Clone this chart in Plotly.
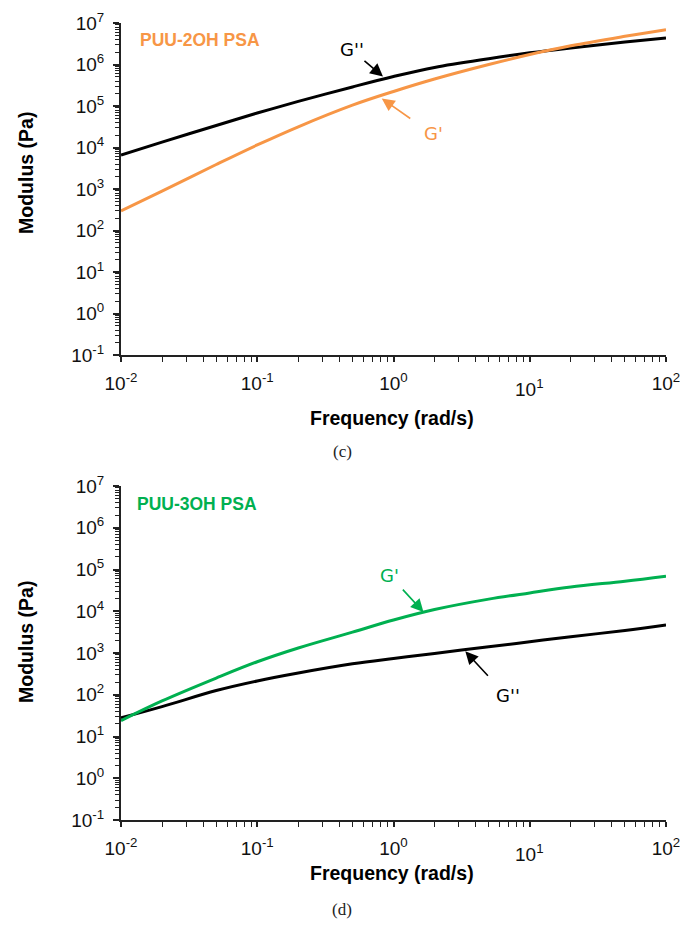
import math
import plotly.graph_objects as go

# Frequency (rad/s)
freq = [0.01, 0.02, 0.05, 0.1, 0.2, 0.5, 1, 2, 5, 10, 20, 50, 100]

# (c) PUU-2OH PSA, modulus in Pa
c_g_storage = [295, 891, 3890, 11500, 31600, 105000, 224000, 447000, 1.0e6, 1.74e6, 2.82e6, 4.79e6, 6.92e6]
c_g_loss = [6610, 13500, 33900, 67600, 129000, 288000, 513000, 851000, 1.38e6, 1.91e6, 2.51e6, 3.47e6, 4.37e6]

# (d) PUU-3OH PSA, modulus in Pa
d_g_storage = [24, 71, 251, 617, 1320, 3160, 6170, 11000, 19500, 27500, 38000, 52500, 69200]
d_g_loss = [28, 52, 126, 214, 331, 550, 741, 977, 1410, 1860, 2450, 3470, 4680]

x_tick_vals = [0.01, 0.1, 1, 10, 100]
x_tick_text = ["10<sup>-2</sup>", "10<sup>-1</sup>", "10<sup>0</sup>", "", "10<sup>2</sup>"]
y_tick_vals = [0.1, 1, 10, 100, 1e3, 1e4, 1e5, 1e6, 1e7]
y_tick_text = ["10<sup>-1</sup>", "10<sup>0</sup>", "10<sup>1</sup>", "10<sup>2</sup>", "10<sup>3</sup>",
               "10<sup>4</sup>", "10<sup>5</sup>", "10<sup>6</sup>", "10<sup>7</sup>"]

ORANGE = "#F79646"
GREEN = "#00B050"
BLACK = "#000000"
W, H = 680, 929
AX_FONT = "Arial, Liberation Sans, sans-serif"
G_FONT = "DejaVu Sans, Verdana, sans-serif"
TICK_SIZE = 19

fig = go.Figure()
fig.add_trace(go.Scatter(x=freq, y=c_g_loss, mode="lines", line=dict(color=BLACK, width=3, shape="spline"),
                         xaxis="x", yaxis="y", showlegend=False))
fig.add_trace(go.Scatter(x=freq, y=c_g_storage, mode="lines", line=dict(color=ORANGE, width=3, shape="spline"),
                         xaxis="x", yaxis="y", showlegend=False))
fig.add_trace(go.Scatter(x=freq, y=d_g_loss, mode="lines", line=dict(color=BLACK, width=3, shape="spline"),
                         xaxis="x2", yaxis="y2", showlegend=False))
fig.add_trace(go.Scatter(x=freq, y=d_g_storage, mode="lines", line=dict(color=GREEN, width=3, shape="spline"),
                         xaxis="x2", yaxis="y2", showlegend=False))

x_minor = [m * 10 ** k for k in range(-2, 2) for m in range(2, 10)]
y_minor = [m * 10 ** k for k in range(-1, 7) for m in range(2, 10)]

def xaxis_cfg(anchor):
    return dict(type="log", range=[-2, 2], domain=[121 / W, 666 / W], anchor=anchor, automargin=False,
                showline=True, linecolor="#222", linewidth=2, mirror=False,
                showgrid=False, zeroline=False, ticklabeloverflow="allow",
                tickvals=x_tick_vals, ticktext=x_tick_text, ticks="outside", ticklen=5,
                tickwidth=1.5, tickcolor="#222", ticklabelstandoff=5,
                tickfont=dict(family=AX_FONT, size=TICK_SIZE, color="#111"),
                minor=dict(tickvals=x_minor, ticks="outside", ticklen=5, tickwidth=1.2, tickcolor="#222"))

def yaxis_cfg(anchor, top_px, bot_px):
    return dict(type="log", range=[-1, 7], domain=[1 - bot_px / H, 1 - top_px / H], anchor=anchor,
                automargin=False, ticklabeloverflow="allow",
                showline=True, linecolor="#222", linewidth=2,
                showgrid=False, zeroline=False,
                tickvals=y_tick_vals, ticktext=y_tick_text, ticks="outside", ticklen=6,
                tickwidth=1.5, tickcolor="#222", ticklabelstandoff=5,
                tickfont=dict(family=AX_FONT, size=TICK_SIZE, color="#111"),
                minor=dict(tickvals=y_minor, ticks="outside", ticklen=4, tickwidth=1.2, tickcolor="#222"))

annotations = []

def txt(x, y, text, size, color="#000", family=AX_FONT, bold=False, angle=0, xanchor="center"):
    t = f"<b>{text}</b>" if bold else text
    annotations.append(dict(x=x / W, y=1 - y / H, xref="paper", yref="paper", text=t, showarrow=False,
                            font=dict(family=family, size=size, color=color), textangle=angle,
                            xanchor=xanchor, yanchor="middle"))

def arrow(xref, yref, fx, gy, ax, ay, color):
    # log axes: annotation positions are given in log10 units
    annotations.append(dict(x=math.log10(fx), y=math.log10(gy), xref=xref, yref=yref, ax=ax, ay=ay,
                            axref="pixel", ayref="pixel",
                            text="", showarrow=True, arrowhead=2, arrowsize=1.6,
                            arrowwidth=1.6, arrowcolor=color, standoff=0, startstandoff=0))

def x10(xref, y_px):
    annotations.append(dict(x=1, y=1 - y_px / H, xref=xref, yref="paper", text="10<sup>1</sup>",
                            showarrow=False, font=dict(family=AX_FONT, size=TICK_SIZE, color="#111"),
                            xanchor="center", yanchor="middle"))

# Panel (c)
txt(138, 40, "PUU-2OH PSA", 17.5, ORANGE, bold=True, xanchor="left")
txt(352, 50, "G''", 18, BLACK, family=G_FONT)
txt(433, 133, "G'", 18, ORANGE, family=G_FONT)
arrow("x", "y", 0.837, 10 ** 5.71, -20, -17, BLACK)
arrow("x", "y", 0.82, 10 ** 5.18, 30, 21, ORANGE)
txt(26, 173, "Modulus (Pa)", 19.5, BLACK, bold=True, angle=-90)
txt(392, 418, "Frequency (rad/s)", 19.5, BLACK, bold=True)
txt(342, 451, "(c)", 17, "#222", family="Liberation Serif, Times New Roman, serif")
x10("x", 388)

# Panel (d)
txt(135, 504, "PUU-3OH PSA", 17.5, GREEN, bold=True, xanchor="left")
txt(389, 575, "G'", 18, GREEN, family=G_FONT)
txt(508, 695, "G''", 18, BLACK, family=G_FONT)
arrow("x2", "y2", 10 ** 0.22, 10 ** 3.98, -22, -24, GREEN)
arrow("x2", "y2", 10 ** 0.527, 10 ** 3.04, 24, 26, BLACK)
txt(26, 642, "Modulus (Pa)", 19.5, BLACK, bold=True, angle=-90)
txt(392, 873, "Frequency (rad/s)", 19.5, BLACK, bold=True)
txt(342, 909, "(d)", 17, "#222", family="Liberation Serif, Times New Roman, serif")
x10("x2", 853)

fig.update_layout(
    width=W, height=H, margin=dict(l=0, r=0, t=0, b=0, autoexpand=False),
    paper_bgcolor="white", plot_bgcolor="white", showlegend=False,
    xaxis=xaxis_cfg("y"), yaxis=yaxis_cfg("x", 23, 355),
    xaxis2=xaxis_cfg("y2"), yaxis2=yaxis_cfg("x2", 486, 820),
    annotations=annotations,
)

fig.write_html("out.html")
